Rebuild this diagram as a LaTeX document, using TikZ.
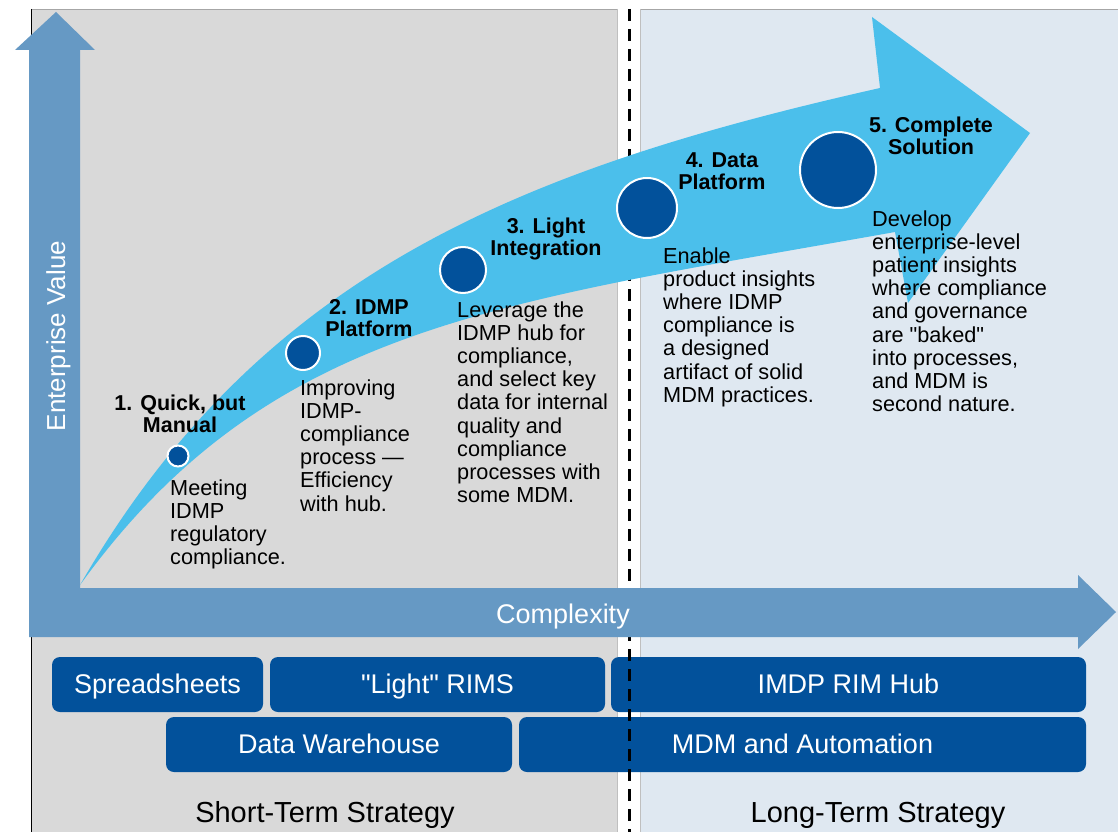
\documentclass[tikz,border=0pt]{standalone}
\usepackage{fontspec}
\setmainfont{Liberation Sans}
\definecolor{panelgray}{RGB}{217,217,217}
\definecolor{panelblue}{RGB}{223,232,241}
\definecolor{axisblue}{RGB}{102,153,196}
\definecolor{curveblue}{RGB}{75,191,235}
\definecolor{darkblue}{RGB}{2,81,155}
\begin{document}
\begin{tikzpicture}[x=1pt,y=-1pt,
  box/.style={fill=darkblue, rounded corners=8pt, inner sep=0pt, outer sep=0pt,
    text=white, font=\fontsize{27}{29}\selectfont, text height=18.5pt, text depth=0pt},
  dot/.style={circle, fill=darkblue, draw=white, line width=2pt, inner sep=0pt},
  stage/.style={font=\bfseries\fontsize{21.5}{22}\selectfont, align=center, anchor=base, inner sep=0pt},
  body/.style={font=\fontsize{21.7}{23.2}\selectfont, align=left, anchor=base west, inner sep=0pt},
  strat/.style={font=\fontsize{29}{31}\selectfont, anchor=base, inner sep=0pt}]
\useasboundingbox (0,0) rectangle (1118,832);
\fill[white] (0,0) rectangle (1118,832);
% panels
\fill[panelgray] (31,9) rectangle (617,832);
\fill[panelblue] (640,9) rectangle (1118,832);
\draw[black!35, line width=0.8pt] (31,9) -- (617,9);
\draw[black!35, line width=0.8pt] (640,9) -- (1118,9);
\draw[black!25, line width=0.8pt] (617,9) -- (617,832);
\draw[black!25, line width=0.8pt] (640,9) -- (640,832);
\draw[black, line width=1pt] (31,9) -- (31,832);
% boxes
\node[box, minimum width=211pt, minimum height=55pt] (sp) at (157.5,684.5) {Spreadsheets};
\node[box, minimum width=335pt, minimum height=55pt] (lr) at (437.5,684.5) {\textquotedbl Light\textquotedbl\ RIMS};
\node[box, minimum width=475pt, minimum height=55pt] (hub) at (848.5,684.5) {IMDP RIM Hub};
\node[box, minimum width=346pt, minimum height=55pt] (dw) at (339,744.5) {Data Warehouse};
\node[box, minimum width=567pt, minimum height=55pt] (mdm) at (802.5,744.5) {MDM and Automation};
% dashed divider
\coordinate (dtop) at (629,9);
\coordinate (dbot) at (629,832);
\draw[black, line width=3pt, dash pattern=on 12pt off 8pt] (dtop) -- (dbot);
% curved arrow
\fill[curveblue] (80,585) .. controls (260,273) and (520,169) .. (880,88) -- (872,17) -- (1030,133) -- (908,303) -- (895,232) .. controls (497,303) and (268,325) .. (80,585) -- cycle;
% axes
\fill[axisblue] (29,637) -- (29,50) -- (15,50) -- (56,12) -- (95,50) -- (80,50) -- (80,588) -- (1078,588) -- (1078,575) -- (1116,612) -- (1078,649) -- (1078,637) -- cycle;
\node[font=\fontsize{26}{28}\selectfont, text=white, rotate=90, anchor=base, inner sep=0pt] (ev) at (65,336) {Enterprise Value};
\node[font=\fontsize{27}{29}\selectfont, text=white, anchor=base, inner sep=0pt] (cx) at (563,623) {Complexity};
% stage dots
\node[dot, minimum size=21pt] (c1) at (178,456) {};
\node[dot, minimum size=34pt] (c2) at (303,353) {};
\node[dot, minimum size=46pt] (c3) at (463,270) {};
\node[dot, minimum size=60pt] (c4) at (647,208) {};
\node[dot, minimum size=76pt] (c5) at (838,170) {};
% stage titles (anchor = baseline of last line)
\node[stage] (t1) at (180,432) {1. Quick, but\\Manual};
\node[stage] (t2) at (369,336) {2. IDMP\\Platform};
\node[stage] (t3) at (546,255) {3. Light\\Integration};
\node[stage] (t4) at (722,189) {4. Data\\Platform};
\node[stage] (t5) at (931,154) {5. Complete\\Solution};
% stage descriptions (anchor = baseline of last line)
\node[body] (b1) at (170,564.6) {Meeting\\IDMP\\regulatory\\compliance.};
\node[body] (b2) at (300,511) {Improving\\IDMP-\\compliance\\process —\\Efficiency\\with hub.};
\node[body] (b3) at (457,502.6) {Leverage the\\IDMP hub for\\compliance,\\and select key\\data for internal\\quality and\\compliance\\processes with\\some MDM.};
\node[body] (b4) at (663,402.2) {Enable\\product insights\\where IDMP\\compliance is\\a designed\\artifact of solid\\MDM practices.};
\node[body] (b5) at (872,411.6) {Develop\\enterprise-level\\patient insights\\where compliance\\and governance\\are \textquotedbl baked\textquotedbl\\into processes,\\and MDM is\\second nature.};
% strategy labels
\node[strat] (st) at (325,822) {Short-Term Strategy};
\node[strat] (lt) at (878,822) {Long-Term Strategy};
\end{tikzpicture}
\end{document}
